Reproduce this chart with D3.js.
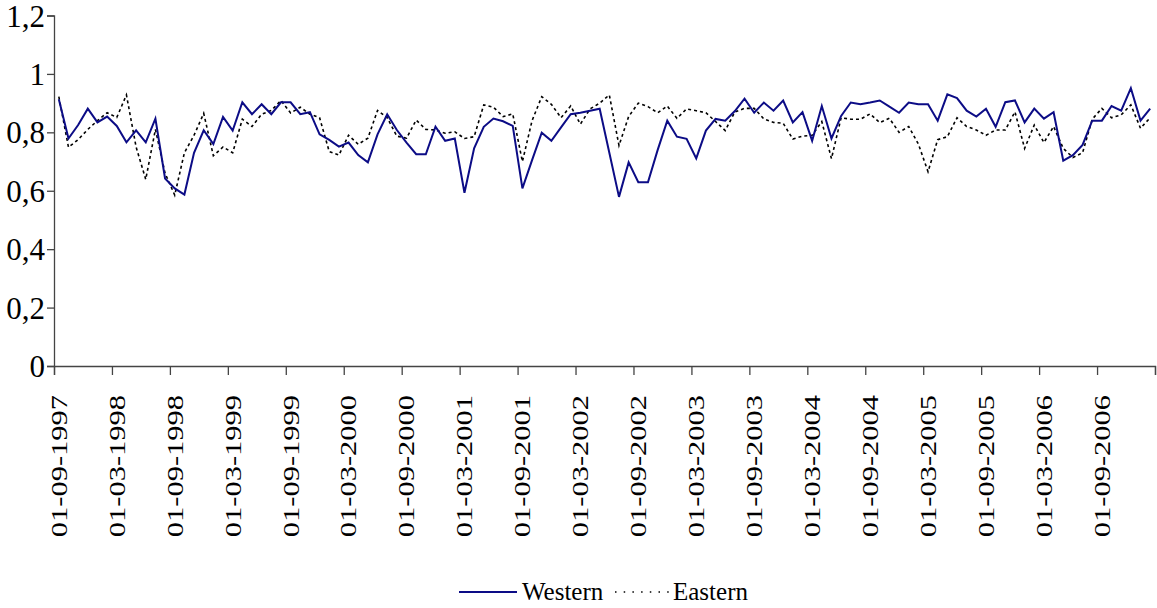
<!DOCTYPE html>
<html>
<head>
<meta charset="utf-8">
<script src="https://cdn.jsdelivr.net/npm/d3@7"></script>
<style>
  html, body { margin: 0; padding: 0; background: #fff; }
  svg { display: block; }
  svg text { font-family: "Liberation Serif", serif; }
</style>
</head>
<body>
<svg id="chart" width="1157" height="608" font-family="Liberation Serif, serif"></svg>
<script>
// ---- data ----
const startMonth = new Date(1997, 8, 1); // 01-09-1997, monthly categories
const monthCount = 114;
const tickLabels = ["01-09-1997","01-03-1998","01-09-1998","01-03-1999","01-09-1999","01-03-2000","01-09-2000","01-03-2001","01-09-2001","01-03-2002","01-09-2002","01-03-2003","01-09-2003","01-03-2004","01-09-2004","01-03-2005","01-09-2005","01-03-2006","01-09-2006"];
const yTicks = [0, 0.2, 0.4, 0.6, 0.8, 1, 1.2];
const yTickLabels = ["0", "0,2", "0,4", "0,6", "0,8", "1", "1,2"];
const seriesNames = ["Western", "Eastern"];

const western = [
  0.913,0.779,0.825,0.881,0.834,0.854,0.822,0.766,0.807,0.766,
  0.847,0.642,0.608,0.587,0.730,0.807,0.760,0.853,0.806,0.903,
  0.862,0.896,0.862,0.903,0.903,0.862,0.869,0.793,0.774,0.751,
  0.765,0.722,0.697,0.793,0.862,0.808,0.765,0.725,0.725,0.819,
  0.771,0.779,0.593,0.745,0.819,0.847,0.838,0.822,0.608,0.705,
  0.799,0.771,0.817,0.862,0.867,0.874,0.881,0.730,0.579,0.697,
  0.629,0.629,0.739,0.840,0.785,0.778,0.711,0.806,0.846,0.840,
  0.873,0.915,0.867,0.902,0.874,0.909,0.834,0.869,0.771,0.890,
  0.779,0.856,0.902,0.896,0.902,0.909,0.888,0.867,0.902,0.896,
  0.896,0.840,0.930,0.917,0.874,0.854,0.881,0.819,0.903,0.909,
  0.834,0.881,0.847,0.869,0.703,0.722,0.757,0.840,0.840,0.890,
  0.874,0.951,0.840,0.881
];
const eastern = [
  0.922,0.749,0.775,0.810,0.840,0.867,0.851,0.928,0.750,0.639,
  0.810,0.660,0.585,0.730,0.790,0.865,0.720,0.750,0.730,0.845,
  0.820,0.862,0.875,0.909,0.866,0.886,0.862,0.850,0.734,0.722,
  0.790,0.759,0.780,0.875,0.850,0.787,0.780,0.842,0.810,0.808,
  0.797,0.802,0.779,0.785,0.894,0.886,0.854,0.863,0.700,0.840,
  0.922,0.896,0.850,0.890,0.828,0.880,0.900,0.928,0.755,0.854,
  0.900,0.888,0.867,0.890,0.848,0.880,0.874,0.867,0.837,0.806,
  0.870,0.882,0.882,0.846,0.834,0.831,0.777,0.787,0.790,0.837,
  0.710,0.850,0.845,0.845,0.863,0.833,0.848,0.800,0.820,0.760,
  0.665,0.775,0.785,0.850,0.820,0.808,0.790,0.808,0.808,0.870,
  0.745,0.825,0.765,0.820,0.745,0.714,0.730,0.845,0.882,0.850,
  0.860,0.894,0.814,0.850
];

// ---- layout ----
const FONT = "Liberation Serif, serif";
const svg = d3.select("#chart");
const plotLeft = 54, plotRight = 1155, plotTop = 15.5, plotBottom = 366;
const fmt = d3.timeFormat("%d-%m-%Y");
const categories = d3.timeMonth.range(startMonth, d3.timeMonth.offset(startMonth, monthCount)).map(fmt);

const x = d3.scaleBand().domain(categories).range([plotLeft, plotRight]).paddingInner(0).paddingOuter(0);
const xb = d3.scaleLinear().domain([0, categories.length]).range([plotLeft, plotRight]);
const y = d3.scaleLinear().domain([0, 1.2]).range([plotBottom, plotTop]);
const cx = d => x(d) + x.bandwidth() / 2;

// y axis
const yAxis = svg.append("g").attr("transform", `translate(${plotLeft},0)`)
  .call(d3.axisLeft(y).tickValues(yTicks).tickSize(7).tickFormat((d, i) => yTickLabels[i]));
yAxis.attr("font-family", FONT);
yAxis.select(".domain").attr("stroke", "#444").attr("stroke-width", 1.3);
yAxis.selectAll(".tick line").attr("stroke", "#444").attr("stroke-width", 1.3);
yAxis.selectAll(".tick text").attr("x", -9).attr("dy", "0.34em")
  .attr("font-family", FONT).style("font-size", "31px").attr("fill", "#000");

// x axis (ticks at category boundaries, every 6 months)
const bTicks = d3.range(0, categories.length + 1, 6);
const xAxis = svg.append("g").attr("transform", `translate(0,${plotBottom})`)
  .call(d3.axisBottom(xb).tickValues(bTicks).tickSize(9).tickFormat(""));
xAxis.select(".domain").attr("stroke", "#444").attr("stroke-width", 1.3);
xAxis.selectAll(".tick line").attr("stroke", "#444").attr("stroke-width", 1.3);

// x labels, centred on every 6th category
const labelCats = tickLabels.map((t, k) => categories[k * 6]);
svg.append("g").attr("font-family", FONT).selectAll("text").data(tickLabels).join("text")
  .attr("transform", (t, k) => `translate(${cx(labelCats[k])},395) rotate(-90) scale(1.27,1)`)
  .attr("text-anchor", "end").attr("dy", "0.33em")
  .attr("font-family", FONT).attr("font-size", 24).attr("fill", "#000")
  .text(t => t);

// lines
const line = d3.line().x((v, i) => cx(categories[i])).y(v => y(v));
svg.append("path").datum(eastern).attr("d", line)
  .attr("fill", "none").attr("stroke", "#000").attr("stroke-width", 1.6)
  .attr("stroke-dasharray", "3,3");
svg.append("path").datum(western).attr("d", line)
  .attr("fill", "none").attr("stroke", "#0c0c86").attr("stroke-width", 2)
  .attr("stroke-linejoin", "miter");

// legend
const lg = svg.append("g").attr("font-family", FONT).attr("font-size", 25);
lg.append("line").attr("x1", 459).attr("x2", 517).attr("y1", 592).attr("y2", 592)
  .attr("stroke", "#0c0c86").attr("stroke-width", 2);
lg.append("text").attr("x", 522).attr("y", 600).text(seriesNames[0]);
lg.append("line").attr("x1", 615).attr("x2", 669).attr("y1", 592).attr("y2", 592)
  .attr("stroke", "#000").attr("stroke-width", 1.4).attr("stroke-dasharray", "1.5,7.2");
lg.append("text").attr("x", 673).attr("y", 600).text(seriesNames[1]);
</script>
</body>
</html>
